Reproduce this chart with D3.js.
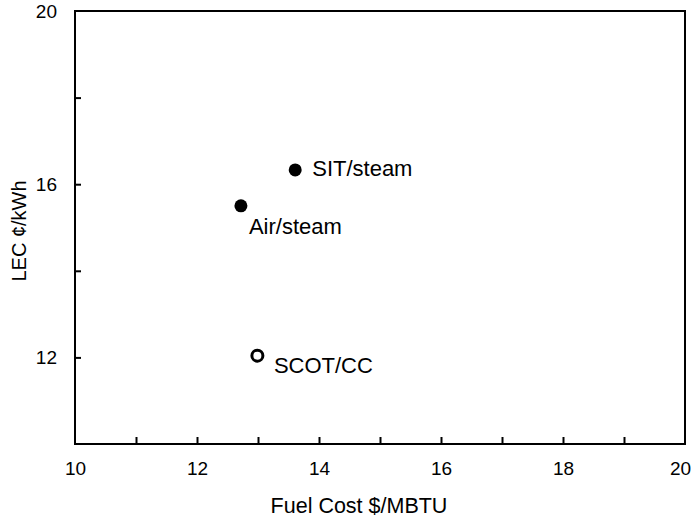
<!DOCTYPE html>
<html>
<head>
<meta charset="utf-8">
<script src="https://cdn.jsdelivr.net/npm/d3@7"></script>
<style>
  body { margin: 0; background: #fff; }
  svg { display: block; font-family: "Liberation Sans", Arial, Helvetica, sans-serif; }
</style>
</head>
<body>
<svg id="chart" width="691" height="521"></svg>
<script>
// ---- data ----
const cases = ["SIT/steam", "Air/steam", "SCOT/CC"];
const fuelCost = [13.61, 12.72, 12.99];     // $/MBTU
const lec = [16.33, 15.50, 12.04];          // cents/kWh
const filled = [true, true, false];
const xTickLabels = [10, 12, 14, 16, 18, 20];
const xMinorTicks = [11, 12, 13, 14, 15, 16, 17, 18, 19];
const yTickLabels = [12, 16, 20];
const yMinorTicks = [12, 14, 16, 18];

(function () {
// ---- layout ----
const svg = d3.select("#chart");
const pL = 75, pR = 685, pT = 11, pB = 444;
const x = d3.scaleLinear().domain([10, 20]).range([pL, pR]);
const y = d3.scaleLinear().domain([10, 20]).range([pB, pT]);

// tick marks (inward)
const xAxisTicks = d3.axisBottom(x).tickValues(xMinorTicks).tickSizeInner(-7).tickSizeOuter(0).tickFormat("");
const gxT = svg.append("g").attr("transform", `translate(0,${pB})`).call(xAxisTicks);
gxT.select(".domain").remove();
gxT.selectAll("line").attr("stroke", "#000").attr("stroke-width", 2);

const yAxisTicks = d3.axisLeft(y).tickValues(yMinorTicks).tickSizeInner(-6).tickSizeOuter(0).tickFormat("");
const gyT = svg.append("g").attr("transform", `translate(${pL},0)`).call(yAxisTicks);
gyT.select(".domain").remove();
gyT.selectAll("line").attr("stroke", "#000").attr("stroke-width", 2);

// tick labels
const xLab = d3.axisBottom(x).tickValues(xTickLabels).tickSize(0).tickPadding(18).tickFormat(d3.format("d"));
const gx = svg.append("g").attr("transform", `translate(0,${pB})`).call(xLab);
gx.select(".domain").remove();
gx.attr("font-family", null).attr("font-size", null);
gx.selectAll("text").attr("font-size", 19).attr("fill", "#000")
  .attr("dx", (d, i, n) => i === n.length - 1 ? -5 : 0);

const yLab = d3.axisLeft(y).tickValues(yTickLabels).tickSize(0).tickPadding(18).tickFormat(d3.format("d"));
const gy = svg.append("g").attr("transform", `translate(${pL},0)`).call(yLab);
gy.select(".domain").remove();
gy.attr("font-family", null).attr("font-size", null);
gy.selectAll("text").attr("font-size", 19).attr("fill", "#000");

// frame
svg.append("rect")
  .attr("x", pL).attr("y", pT)
  .attr("width", pR - pL).attr("height", pB - pT)
  .attr("fill", "none").attr("stroke", "#000").attr("stroke-width", 2);

// axis titles
svg.append("text")
  .attr("x", 359).attr("y", 513)
  .attr("text-anchor", "middle").attr("font-size", 21.5)
  .text("Fuel Cost $/MBTU");
svg.append("text")
  .attr("transform", `translate(26,231) rotate(-90)`)
  .attr("text-anchor", "middle").attr("font-size", 20)
  .text("LEC ¢/kWh");

// points
const pts = cases.map((c, i) => ({ name: c, fx: fuelCost[i], ly: lec[i], filled: filled[i] }));
svg.append("g").selectAll("circle").data(pts).join("circle")
  .attr("cx", d => x(d.fx)).attr("cy", d => y(d.ly))
  .attr("r", d => d.filled ? 6.5 : 5.5)
  .attr("fill", d => d.filled ? "#000" : "#fff")
  .attr("stroke", "#000")
  .attr("stroke-width", d => d.filled ? 0 : 3);

// point labels (offsets relative to the point)
const labelOffset = { "SIT/steam": [17, 6], "Air/steam": [8, 28], "SCOT/CC": [16.5, 17] };
svg.append("g").selectAll("text").data(pts).join("text")
  .attr("x", d => x(d.fx) + labelOffset[d.name][0])
  .attr("y", d => y(d.ly) + labelOffset[d.name][1])
  .attr("font-size", 22)
  .text(d => d.name);
})();
</script>
</body>
</html>
